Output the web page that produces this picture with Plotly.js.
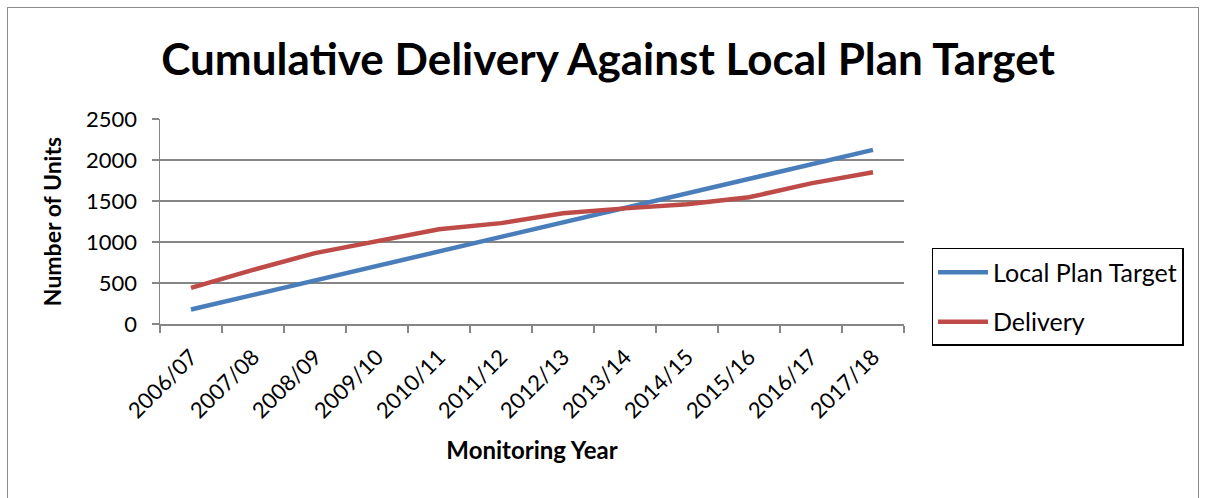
<!DOCTYPE html>
<html>
<head>
<meta charset="utf-8">
<script src="https://cdn.plot.ly/plotly-3.0.1.min.js"></script>
<style>
html,body{margin:0;padding:0;background:#fff;}
#wrap{position:absolute;left:7px;top:7px;width:1192px;height:500px;border:1px solid #8c8c8c;box-sizing:border-box;}
#chart{position:absolute;left:0;top:0;width:1205px;height:498px;}
</style>
</head>
<body>
<div id="wrap"></div>
<div id="chart"></div>
<script>
const years = ["2006/07","2007/08","2008/09","2009/10","2010/11","2011/12","2012/13","2013/14","2014/15","2015/16","2016/17","2017/18"];
const localPlanTarget = [177,354,531,708,885,1062,1239,1416,1593,1770,1947,2124];
const delivery = [440,660,865,1010,1155,1230,1350,1410,1460,1545,1715,1850];

const traces = [
  {x: years, y: localPlanTarget, type: 'scatter', mode: 'lines', name: 'Local Plan Target',
   legendgroup: 'a', line: {color: '#4A7EBB', width: 4.5}},
  {x: years, y: delivery, type: 'scatter', mode: 'lines', name: 'Delivery',
   legendgroup: 'b', line: {color: '#BE4B48', width: 4.5}}
];

const layout = {
  width: 1205, height: 498,
  paper_bgcolor: 'rgba(0,0,0,0)', plot_bgcolor: 'rgba(0,0,0,0)',
  margin: {l: 160, r: 301, t: 119, b: 174},
  font: {family: 'Lato, "Open Sans", sans-serif', color: '#000'},
  title: {text: '<b>Cumulative Delivery Against Local Plan Target</b>',
          font: {size: 44, family: 'Lato, sans-serif', color: '#000'},
          x: 608/1205, xanchor: 'center', y: 1-60/498, yanchor: 'middle'},
  xaxis: {type: 'category', range: [-0.5, 11.5], tickson: 'boundaries',
          showgrid: false, showline: true, linecolor: '#868686', linewidth: 1.5,
          ticks: 'outside', ticklen: 7, tickcolor: '#868686', tickwidth: 1.5,
          ticklabelstandoff: 10,
          tickangle: -45, tickfont: {size: 22, color: '#000'},
          title: {text: '<b>Monitoring Year</b>', font: {size: 24, color: '#000'}, standoff: 20}},
  yaxis: {range: [0, 2500], dtick: 500, showgrid: true, gridcolor: '#868686', gridwidth: 1.5,
          showline: true, linecolor: '#868686', linewidth: 1.5, zeroline: false,
          ticks: 'outside', ticklen: 7, tickcolor: '#868686', tickwidth: 1.5,
          ticklabelstandoff: 10,
          tickfont: {size: 22, color: '#000'},
          title: {text: '<b>Number of Units</b>', font: {size: 23, color: '#000'}, standoff: 18}},
  showlegend: true,
  legend: {x: 1.037, xanchor: 'left', y: 0.371, yanchor: 'top',
           bordercolor: '#000', borderwidth: 1.5, bgcolor: '#fff',
           font: {size: 25, color: '#000'}, tracegroupgap: 14, itemwidth: 50}
};

Plotly.newPlot('chart', traces, layout, {displayModeBar: false, staticPlot: true});
</script>
</body>
</html>
